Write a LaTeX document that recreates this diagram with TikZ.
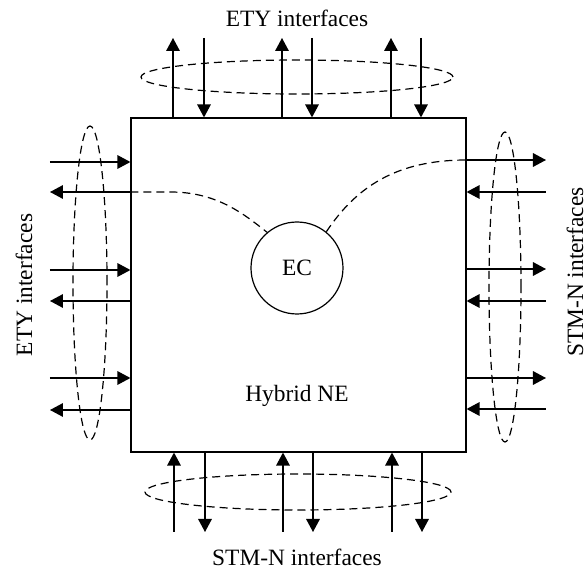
\documentclass[tikz,border=0pt]{standalone}
\usepackage{fontspec}
\setmainfont{Liberation Serif}
\usepackage{tikz}
\usetikzlibrary{arrows.meta,shapes.geometric,calc}

\begin{document}
\begin{tikzpicture}[
  x=0.5pt, y=-0.5pt, font=\fontsize{11.7}{14}\selectfont,
  box/.style={draw, line width=0.6pt, minimum width=167.5pt, minimum height=167pt, inner sep=0pt},
  ecnode/.style={draw, circle, line width=0.6pt, minimum size=46pt, inner sep=0pt},
  grp/.style={draw, ellipse, dashed, dash pattern=on 4pt off 2.5pt, line width=0.6pt, inner sep=0pt},
  link/.style={dashed, dash pattern=on 4pt off 2.5pt, line width=0.6pt},
  arr/.style={line width=0.65pt, -{Triangle[length=6.5pt, width=6.8pt]}}
]
  \useasboundingbox (0,0) rectangle (586,573);

  \node[box] (ne) at (298.5,285) {};
  \node (nelbl) at (297,396) {Hybrid NE};
  \node[ecnode] (ec) at (297,268) {EC};

  % interface groups
  \node[grp, minimum width=156pt, minimum height=17pt] (topgrp) at (297,77) {};
  \node[grp, minimum width=153pt, minimum height=18pt] (botgrp) at (298,492) {};
  \node[grp, minimum width=17pt, minimum height=157pt] (lftgrp) at (90,283) {};
  \node[grp, minimum width=16pt, minimum height=155pt] (rgtgrp) at (505,287) {};

  \node (toplbl) at (297,18) {ETY interfaces};
  \node (botlbl) at (297,557) {STM-N interfaces};
  \node[rotate=90] (lftlbl) at (24,285) {ETY interfaces};
  \node[rotate=90, inner sep=0pt] (rgtlbl) at (575,272) {STM-N interfaces};

  % top: ETY
  \foreach \x/\n in {173/1,282/2,391/3} {
    \coordinate (tu\n) at (\x,38);
    \draw[arr] (tu\n |- ne.north) -- (tu\n);
  }
  \foreach \x/\n in {204/1,312/2,421/3} {
    \coordinate (td\n) at (\x,38);
    \draw[arr] (td\n) -- (td\n |- ne.north);
  }

  % bottom: STM-N
  \foreach \x/\n in {174/1,283/2,392/3} {
    \coordinate (bu\n) at (\x,532);
    \draw[arr] (bu\n) -- (bu\n |- ne.south);
  }
  \foreach \x/\n in {205/1,313/2,422/3} {
    \coordinate (bd\n) at (\x,532);
    \draw[arr] (bd\n |- ne.south) -- (bd\n);
  }

  % left: ETY
  \foreach \y/\n in {162/1,270/2,378/3} {
    \coordinate (lr\n) at (50,\y);
    \draw[arr] (lr\n) -- (lr\n -| ne.west);
  }
  \foreach \y/\n in {192/1,301/2,410/3} {
    \coordinate (ll\n) at (50,\y);
    \draw[arr] (ll\n -| ne.west) -- (ll\n);
  }

  % right: STM-N
  \foreach \y/\n in {160/1,269/2,378/3} {
    \coordinate (rr\n) at (546,\y);
    \draw[arr] (rr\n -| ne.east) -- (rr\n);
  }
  \foreach \y/\n in {192/1,301/2,409/3} {
    \coordinate (rl\n) at (546,\y);
    \draw[arr] (rl\n) -- (rl\n -| ne.east);
  }

  % EC connections
  \draw[link] (ll1 -| ne.west) -- ++(40,0) .. controls ++(45,0) and ($(ec.130)+(-25,-20)$) .. (ec.130);
  \draw[link] (ec.51) .. controls ($(ec.51)+(30,-45)$) and ($(rr1 -| ne.east)+(-70,0)$) .. (rr1 -| ne.east);
\end{tikzpicture}
\end{document}
